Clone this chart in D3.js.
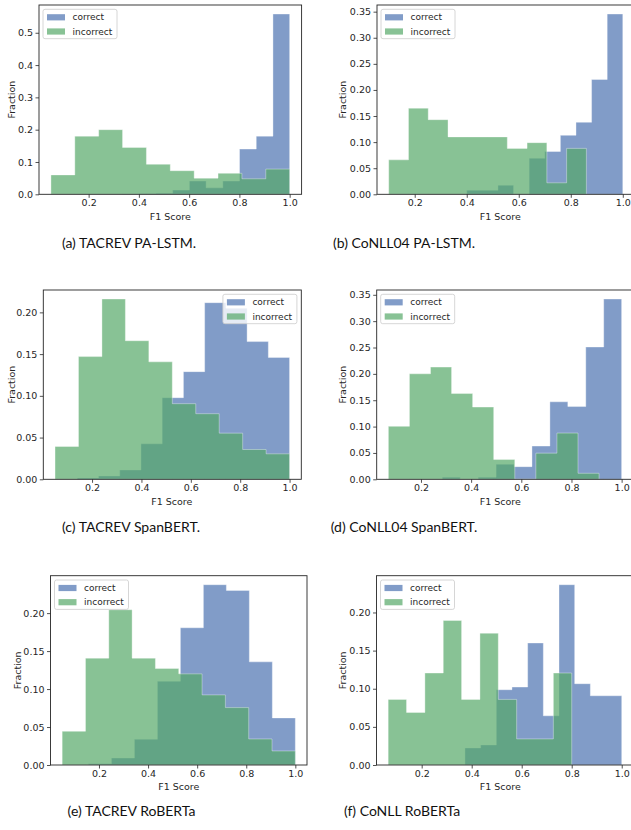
<!DOCTYPE html>
<html>
<head>
<meta charset="utf-8">
<script src="https://cdn.jsdelivr.net/npm/d3@7"></script>
<style>
  body { margin: 0; background: #fff; }
  svg { display: block; }
</style>
</head>
<body>
<svg id="chart" width="631" height="830"></svg>
<script>
// shared
var xTicks = [0.2, 0.4, 0.6, 0.8, 1.0];
var seriesNames = ["correct", "incorrect"];
var ticks01 = [0, 0.1, 0.2, 0.3, 0.4, 0.5];
var ticks005to35 = [0, 0.05, 0.10, 0.15, 0.20, 0.25, 0.30, 0.35];
var ticks005to20 = [0, 0.05, 0.10, 0.15, 0.20];

// (a) TACREV PA-LSTM
var tacrevLstmCorrectRange = [0.335, 1.0];
var tacrevLstmCorrect = [0.001, 0.002, 0.003, 0.013, 0.041, 0.02, 0.041, 0.14, 0.18, 0.558];
var tacrevLstmIncorrectRange = [0.05, 1.0];
var tacrevLstmIncorrect = [0.06, 0.18, 0.20, 0.145, 0.093, 0.073, 0.05, 0.065, 0.048, 0.078];

// (b) CoNLL04 PA-LSTM
var conllLstmCorrectRange = [0.4, 1.0];
var conllLstmCorrect = [0.0077, 0.0077, 0.0173, 0, 0.069, 0.082, 0.113, 0.138, 0.22, 0.3455];
var conllLstmIncorrectRange = [0.1, 0.86];
var conllLstmIncorrect = [0.066, 0.165, 0.143, 0.110, 0.110, 0.110, 0.088, 0.099, 0.022, 0.088];

// (c) TACREV SpanBERT
var tacrevSpanCorrectRange = [0.14, 1.0];
var tacrevSpanCorrect = [0.0016, 0.004, 0.0112, 0.0425, 0.0978, 0.129, 0.2116, 0.205, 0.165, 0.146];
var tacrevSpanIncorrectRange = [0.05, 1.0];
var tacrevSpanIncorrect = [0.0393, 0.147, 0.216, 0.166, 0.1407, 0.0906, 0.0786, 0.0553, 0.0357, 0.0305];

// (d) CoNLL04 SpanBERT
var conllSpanCorrectRange = [0.285, 1.0];
var conllSpanCorrect = [0.004, 0, 0.004, 0.0286, 0.024, 0.063, 0.147, 0.138, 0.251, 0.342];
var conllSpanIncorrectRange = [0.07, 0.91];
var conllSpanIncorrect = [0.1004, 0.2001, 0.2128, 0.1627, 0.137, 0.0375, 0, 0.0496, 0.0877, 0.0114];

// (e) TACREV RoBERTa
var tacrevRobertaCorrectRange = [0.157, 1.0];
var tacrevRobertaCorrect = [0.0015, 0.0092, 0.0339, 0.1103, 0.1807, 0.2374, 0.2299, 0.1358, 0.062];
var tacrevRobertaIncorrectRange = [0.05, 1.0];
var tacrevRobertaIncorrect = [0.0444, 0.1407, 0.2044, 0.1407, 0.127, 0.12, 0.0923, 0.0756, 0.0343, 0.0185];

// (f) CoNLL RoBERTa
var conllRobertaCorrectRange = [0.373, 1.0];
var conllRobertaCorrect = [0.0224, 0.0263, 0.0987, 0.1022, 0.160, 0.0645, 0.2364, 0.1066, 0.0908, 0.0908];
var conllRobertaIncorrectRange = [0.066, 0.8];
var conllRobertaIncorrect = [0.086, 0.0689, 0.1206, 0.1895, 0.086, 0.1728, 0.086, 0.0342, 0.0342, 0.1206];

var colors = { correct: "#4C72B0", incorrect: "#55A868" };
var textColor = "#262626";
var fontFamily = "DejaVu Sans";

// layout per panel (frame box in px, label spots)
var panels = [
  { caption: "(a) TACREV PA-LSTM.", correct: tacrevLstmCorrect, correctRange: tacrevLstmCorrectRange,
    incorrect: tacrevLstmIncorrect, incorrectRange: tacrevLstmIncorrectRange, yTicks: ticks01, yFmt: ".1f",
    left: 39, top: 5, width: 262.6, height: 189.3, yLabelX: 11.7, xLabelX: 170.3, legend: "left", capX: 129, capY: 248 },
  { caption: "(b) CoNLL04 PA-LSTM.", correct: conllLstmCorrect, correctRange: conllLstmCorrectRange,
    incorrect: conllLstmIncorrect, incorrectRange: conllLstmIncorrectRange, yTicks: ticks005to35, yFmt: ".2f",
    left: 377, top: 5, width: 257.5, height: 189.3, yLabelX: 343, xLabelX: 500.3, legend: "left", capX: 404, capY: 248 },
  { caption: "(c) TACREV SpanBERT.", correct: tacrevSpanCorrect, correctRange: tacrevSpanCorrectRange,
    incorrect: tacrevSpanIncorrect, incorrectRange: tacrevSpanIncorrectRange, yTicks: ticks005to20, yFmt: ".2f",
    left: 43.3, top: 290, width: 258, height: 189.3, yLabelX: 11.7, xLabelX: 171.8, legend: "right", capX: 131, capY: 532 },
  { caption: "(d) CoNLL04 SpanBERT.", correct: conllSpanCorrect, correctRange: conllSpanCorrectRange,
    incorrect: conllSpanIncorrect, incorrectRange: conllSpanIncorrectRange, yTicks: ticks005to35, yFmt: ".2f",
    left: 376.7, top: 290, width: 256.6, height: 189.3, yLabelX: 343, xLabelX: 500.3, legend: "left", capX: 404, capY: 532 },
  { caption: "(e) TACREV RoBERTa", correct: tacrevRobertaCorrect, correctRange: tacrevRobertaCorrectRange,
    incorrect: tacrevRobertaIncorrect, incorrectRange: tacrevRobertaIncorrectRange, yTicks: ticks005to20, yFmt: ".2f",
    left: 50.5, top: 575.7, width: 256.5, height: 189.3, yLabelX: 17.3, xLabelX: 178.8, legend: "left", capX: 131.5, capY: 816 },
  { caption: "(f) CoNLL RoBERTa", correct: conllRobertaCorrect, correctRange: conllRobertaCorrectRange,
    incorrect: conllRobertaIncorrect, incorrectRange: conllRobertaIncorrectRange, yTicks: ticks005to20, yFmt: ".2f",
    left: 376.5, top: 575.7, width: 256.9, height: 189.3, yLabelX: 343, xLabelX: 500.3, legend: "left", capX: 402, capY: 816 }
];

// turn bin range + values into step points for d3.curveStepAfter
function stepPoints(range, values) {
  var w = (range[1] - range[0]) / values.length;
  var pts = values.map(function(v, i) { return [range[0] + i * w, v]; });
  pts.push([range[1], values[values.length - 1]]);
  return pts;
}

function drawPanel(svg, p) {
  var lo = Math.min(p.correctRange[0], p.incorrectRange[0]);
  var hi = Math.max(p.correctRange[1], p.incorrectRange[1]);
  var pad = (hi - lo) * 0.05;
  var x = d3.scaleLinear().domain([lo - pad, hi + pad]).range([p.left, p.left + p.width]);
  var yMax = d3.max(p.correct.concat(p.incorrect)) * 1.05;
  var y = d3.scaleLinear().domain([0, yMax]).range([p.top + p.height, p.top]);

  var g = svg.append("g");

  var area = d3.area()
    .curve(d3.curveStepAfter)
    .x(function(d) { return x(d[0]); })
    .y0(y(0))
    .y1(function(d) { return y(d[1]); });

  // correct drawn first, incorrect on top (both translucent)
  [["correct", p.correct, p.correctRange], ["incorrect", p.incorrect, p.incorrectRange]].forEach(function(s) {
    g.append("path")
      .datum(stepPoints(s[2], s[1]))
      .attr("d", area)
      .attr("fill", colors[s[0]])
      .attr("fill-opacity", 0.7)
      .attr("stroke", "#fff")
      .attr("stroke-opacity", 0.45)
      .attr("stroke-width", 0.8);
  });

  var xAxis = g.append("g")
    .attr("transform", "translate(0," + (p.top + p.height) + ")")
    .call(d3.axisBottom(x).tickValues(xTicks).tickSize(3.5).tickPadding(1.8).tickFormat(d3.format(".1f")));
  var yAxis = g.append("g")
    .attr("transform", "translate(" + p.left + ",0)")
    .call(d3.axisLeft(y).tickValues(p.yTicks).tickSize(3.5).tickPadding(2.5).tickFormat(d3.format(p.yFmt)));

  [xAxis, yAxis].forEach(function(ax) {
    ax.select(".domain").remove();
    ax.selectAll("line").attr("stroke", textColor).attr("stroke-width", 0.8);
    ax.selectAll("text").attr("fill", textColor).style("font-family", fontFamily).style("font-size", "9.5px");
  });

  // frame
  g.append("rect")
    .attr("x", p.left).attr("y", p.top)
    .attr("width", p.width).attr("height", p.height)
    .attr("fill", "none")
    .attr("stroke", textColor)
    .attr("stroke-width", 0.9);

  g.append("text")
    .attr("x", p.xLabelX)
    .attr("y", p.top + p.height + 25.4)
    .attr("text-anchor", "middle")
    .attr("fill", textColor)
    .style("font-family", fontFamily).style("font-size", "9.5px")
    .text("F1 Score");

  g.append("text")
    .attr("transform", "translate(" + p.yLabelX + "," + (p.top + p.height / 2) + ") rotate(-90)")
    .attr("text-anchor", "middle")
    .attr("dy", "0.35em")
    .attr("fill", textColor)
    .style("font-family", fontFamily).style("font-size", "9.5px")
    .text("Fraction");

  // legend
  var lw = 74, lh = 29.4;
  var lx = p.legend === "right" ? p.left + p.width - 4.4 - lw : p.left + 4;
  var ly = p.top + 4.3;
  var leg = g.append("g").attr("transform", "translate(" + lx + "," + ly + ")");
  leg.append("rect")
    .attr("width", lw).attr("height", lh).attr("rx", 2)
    .attr("fill", "#fff").attr("fill-opacity", 0.8)
    .attr("stroke", "#cccccc").attr("stroke-width", 0.8);
  seriesNames.forEach(function(name, i) {
    var cy = 8 + i * 14.2;
    leg.append("rect")
      .attr("x", 4).attr("y", cy - 3.1)
      .attr("width", 18).attr("height", 6.2)
      .attr("fill", colors[name]).attr("fill-opacity", 0.7);
    leg.append("text")
      .attr("x", 29.5).attr("y", cy)
      .attr("dy", "0.35em")
      .attr("fill", textColor)
      .style("font-family", fontFamily).style("font-size", "9px")
      .text(name);
  });

  svg.append("text")
    .attr("x", p.capX).attr("y", p.capY)
    .attr("text-anchor", "middle")
    .attr("fill", "#111")
    .style("font-family", "Lato").style("font-size", "14px")
    .text(p.caption);
}

var svg = d3.select("#chart");
panels.forEach(function(p) { drawPanel(svg, p); });
</script>
</body>
</html>
